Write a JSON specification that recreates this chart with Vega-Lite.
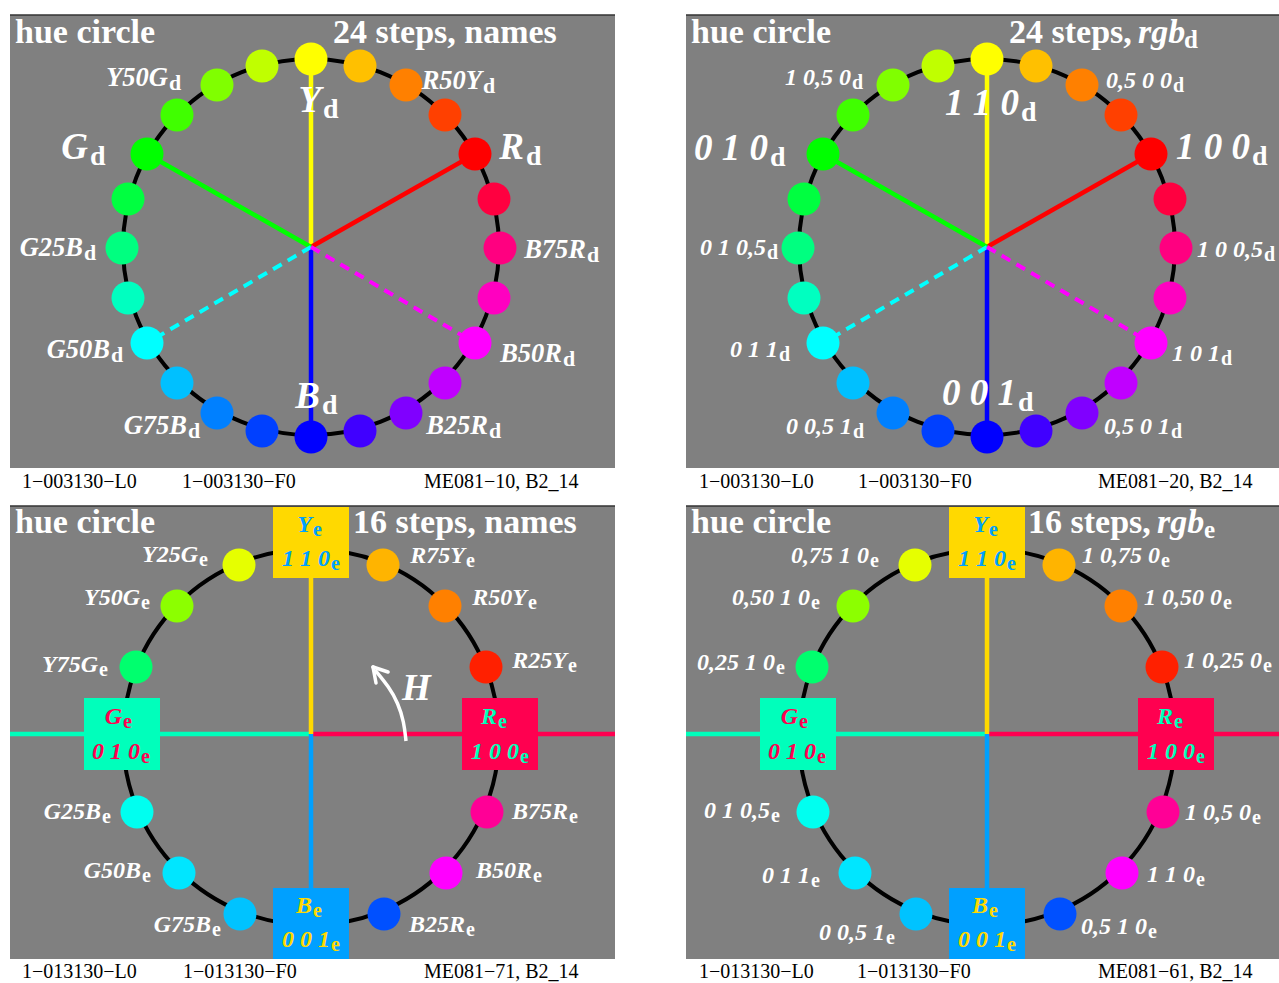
{
 "$schema": "https://vega.github.io/schema/vega-lite/v6.json",
 "width": 1279, "height": 983, "padding": 0, "autosize": {"type": "none"},
 "background": "#ffffff",
 "config": {"view": {"stroke": null}, "text": {"font": "Liberation Serif"}},
 "datasets": {
  "panels": [
   {"x0": 10, "x1": 615, "y0": 15, "y1": 468},
   {"x0": 686, "x1": 1279, "y0": 15, "y1": 468},
   {"x0": 10, "x1": 615, "y0": 506, "y1": 959},
   {"x0": 686, "x1": 1279, "y0": 506, "y1": 959}
  ],
  "rings": [
   {"x": 311, "y": 247}, {"x": 987, "y": 247}, {"x": 311, "y": 737}, {"x": 987, "y": 737}
  ],
  "spokes": [
   {"x": 311, "y": 247, "x2": 311, "y2": 59, "c": "#ffff00", "dash": false},
   {"x": 311, "y": 247, "x2": 475, "y2": 154, "c": "#ff0000", "dash": false},
   {"x": 311, "y": 247, "x2": 147, "y2": 154, "c": "#00ff00", "dash": false},
   {"x": 311, "y": 247, "x2": 311, "y2": 437, "c": "#0000ff", "dash": false},
   {"x": 311, "y": 247, "x2": 147, "y2": 343, "c": "#00ffff", "dash": true},
   {"x": 311, "y": 247, "x2": 475, "y2": 343, "c": "#ff00ff", "dash": true},
   {"x": 987, "y": 247, "x2": 987, "y2": 59, "c": "#ffff00", "dash": false},
   {"x": 987, "y": 247, "x2": 1151, "y2": 154, "c": "#ff0000", "dash": false},
   {"x": 987, "y": 247, "x2": 823, "y2": 154, "c": "#00ff00", "dash": false},
   {"x": 987, "y": 247, "x2": 987, "y2": 437, "c": "#0000ff", "dash": false},
   {"x": 987, "y": 247, "x2": 823, "y2": 343, "c": "#00ffff", "dash": true},
   {"x": 987, "y": 247, "x2": 1151, "y2": 343, "c": "#ff00ff", "dash": true},
   {"x": 10, "y": 734, "x2": 311, "y2": 734, "c": "#00ffbb", "dash": false},
   {"x": 311, "y": 734, "x2": 615, "y2": 734, "c": "#ff0050", "dash": false},
   {"x": 311, "y": 734, "x2": 311, "y2": 578, "c": "#ffd900", "dash": false},
   {"x": 311, "y": 734, "x2": 311, "y2": 888, "c": "#00a0ff", "dash": false},
   {"x": 686, "y": 734, "x2": 987, "y2": 734, "c": "#00ffbb", "dash": false},
   {"x": 987, "y": 734, "x2": 1279, "y2": 734, "c": "#ff0050", "dash": false},
   {"x": 987, "y": 734, "x2": 987, "y2": 578, "c": "#ffd900", "dash": false},
   {"x": 987, "y": 734, "x2": 987, "y2": 888, "c": "#00a0ff", "dash": false}
  ],
  "boxes": [
   {"x0": 273, "x1": 349, "y0": 507, "y1": 578, "c": "#ffd900"},
   {"x0": 84, "x1": 160, "y0": 698, "y1": 770, "c": "#00ffbb"},
   {"x0": 462, "x1": 538, "y0": 698, "y1": 770, "c": "#ff0050"},
   {"x0": 273, "x1": 349, "y0": 888, "y1": 959, "c": "#00a0ff"},
   {"x0": 949, "x1": 1025, "y0": 507, "y1": 578, "c": "#ffd900"},
   {"x0": 760, "x1": 836, "y0": 698, "y1": 770, "c": "#00ffbb"},
   {"x0": 1138, "x1": 1214, "y0": 698, "y1": 770, "c": "#ff0050"},
   {"x0": 949, "x1": 1025, "y0": 888, "y1": 959, "c": "#00a0ff"}
  ],
  "dots": [
   {"x": 311, "y": 59, "c": "#ffff00"}, {"x": 360, "y": 66, "c": "#ffc000"}, {"x": 406, "y": 85, "c": "#ff8000"},
   {"x": 445, "y": 115, "c": "#ff4000"}, {"x": 475, "y": 154, "c": "#ff0000"}, {"x": 494, "y": 199, "c": "#ff0040"},
   {"x": 500, "y": 248, "c": "#ff0080"}, {"x": 494, "y": 298, "c": "#ff00c0"}, {"x": 475, "y": 343, "c": "#ff00ff"},
   {"x": 445, "y": 383, "c": "#c000ff"}, {"x": 406, "y": 413, "c": "#8000ff"}, {"x": 360, "y": 431, "c": "#4000ff"},
   {"x": 311, "y": 437, "c": "#0000ff"}, {"x": 262, "y": 431, "c": "#0040ff"}, {"x": 217, "y": 413, "c": "#0080ff"},
   {"x": 177, "y": 383, "c": "#00c0ff"}, {"x": 147, "y": 343, "c": "#00ffff"}, {"x": 128, "y": 298, "c": "#00ffc0"},
   {"x": 122, "y": 248, "c": "#00ff80"}, {"x": 128, "y": 199, "c": "#00ff40"}, {"x": 147, "y": 154, "c": "#00ff00"},
   {"x": 177, "y": 115, "c": "#40ff00"}, {"x": 217, "y": 85, "c": "#80ff00"}, {"x": 262, "y": 66, "c": "#c0ff00"},
   {"x": 987, "y": 59, "c": "#ffff00"}, {"x": 1036, "y": 66, "c": "#ffc000"}, {"x": 1082, "y": 85, "c": "#ff8000"},
   {"x": 1121, "y": 115, "c": "#ff4000"}, {"x": 1151, "y": 154, "c": "#ff0000"}, {"x": 1170, "y": 199, "c": "#ff0040"},
   {"x": 1176, "y": 248, "c": "#ff0080"}, {"x": 1170, "y": 298, "c": "#ff00c0"}, {"x": 1151, "y": 343, "c": "#ff00ff"},
   {"x": 1121, "y": 383, "c": "#c000ff"}, {"x": 1082, "y": 413, "c": "#8000ff"}, {"x": 1036, "y": 431, "c": "#4000ff"},
   {"x": 987, "y": 437, "c": "#0000ff"}, {"x": 938, "y": 431, "c": "#0040ff"}, {"x": 893, "y": 413, "c": "#0080ff"},
   {"x": 853, "y": 383, "c": "#00c0ff"}, {"x": 823, "y": 343, "c": "#00ffff"}, {"x": 804, "y": 298, "c": "#00ffc0"},
   {"x": 798, "y": 248, "c": "#00ff80"}, {"x": 804, "y": 199, "c": "#00ff40"}, {"x": 823, "y": 154, "c": "#00ff00"},
   {"x": 853, "y": 115, "c": "#40ff00"}, {"x": 893, "y": 85, "c": "#80ff00"}, {"x": 938, "y": 66, "c": "#c0ff00"},
   {"x": 239, "y": 565, "c": "#e6ff00"}, {"x": 177, "y": 606, "c": "#8cff00"}, {"x": 136, "y": 667, "c": "#00ff6e"},
   {"x": 383, "y": 565, "c": "#ffb400"}, {"x": 445, "y": 606, "c": "#ff8000"}, {"x": 486, "y": 667, "c": "#ff2000"},
   {"x": 137, "y": 812, "c": "#00fff0"}, {"x": 179, "y": 873, "c": "#00e6ff"}, {"x": 240, "y": 914, "c": "#00c3ff"},
   {"x": 487, "y": 812, "c": "#ff0096"}, {"x": 446, "y": 873, "c": "#ff00ff"}, {"x": 384, "y": 914, "c": "#0050ff"},
   {"x": 915, "y": 565, "c": "#e6ff00"}, {"x": 853, "y": 606, "c": "#8cff00"}, {"x": 812, "y": 667, "c": "#00ff6e"},
   {"x": 1059, "y": 565, "c": "#ffb400"}, {"x": 1121, "y": 606, "c": "#ff8000"}, {"x": 1162, "y": 667, "c": "#ff2000"},
   {"x": 813, "y": 812, "c": "#00fff0"}, {"x": 855, "y": 873, "c": "#00e6ff"}, {"x": 916, "y": 914, "c": "#00c3ff"},
   {"x": 1163, "y": 812, "c": "#ff0096"}, {"x": 1122, "y": 873, "c": "#ff00ff"}, {"x": 1060, "y": 914, "c": "#0050ff"}
  ],
  "labels": [
   {"x": 168, "y": 86, "main": "Y50G", "sub": "d", "k": "t"},
   {"x": 482, "y": 89, "main": "R50Y", "sub": "d", "k": "t"},
   {"x": 83, "y": 256, "main": "G25B", "sub": "d", "k": "t"},
   {"x": 586, "y": 258, "main": "B75R", "sub": "d", "k": "t"},
   {"x": 110, "y": 358, "main": "G50B", "sub": "d", "k": "t"},
   {"x": 562, "y": 362, "main": "B50R", "sub": "d", "k": "t"},
   {"x": 187, "y": 434, "main": "G75B", "sub": "d", "k": "t"},
   {"x": 488, "y": 434, "main": "B25R", "sub": "d", "k": "t"},
   {"x": 321, "y": 112, "main": "Y", "sub": "d", "k": "b"},
   {"x": 88, "y": 159, "main": "G", "sub": "d", "k": "b"},
   {"x": 524, "y": 159, "main": "R", "sub": "d", "k": "b"},
   {"x": 320, "y": 408, "main": "B", "sub": "d", "k": "b"},
   {"x": 851, "y": 85, "main": "1 0,5 0", "sub": "d", "k": "s"},
   {"x": 1172, "y": 88, "main": "0,5 0 0", "sub": "d", "k": "s"},
   {"x": 766, "y": 255, "main": "0 1 0,5", "sub": "d", "k": "s"},
   {"x": 1263, "y": 257, "main": "1 0 0,5", "sub": "d", "k": "s"},
   {"x": 778, "y": 357, "main": "0 1 1", "sub": "d", "k": "s"},
   {"x": 1220, "y": 361, "main": "1 0 1", "sub": "d", "k": "s"},
   {"x": 852, "y": 434, "main": "0 0,5 1", "sub": "d", "k": "s"},
   {"x": 1170, "y": 434, "main": "0,5 0 1", "sub": "d", "k": "s"},
   {"x": 1019, "y": 115, "main": "1 1 0", "sub": "d", "k": "b"},
   {"x": 768, "y": 160, "main": "0 1 0", "sub": "d", "k": "b"},
   {"x": 1250, "y": 159, "main": "1 0 0", "sub": "d", "k": "b"},
   {"x": 1016, "y": 405, "main": "0 0 1", "sub": "d", "k": "b"},
   {"x": 198, "y": 562, "main": "Y25G", "sub": "e", "k": "s"},
   {"x": 140, "y": 605, "main": "Y50G", "sub": "e", "k": "s"},
   {"x": 98, "y": 672, "main": "Y75G", "sub": "e", "k": "s"},
   {"x": 465, "y": 563, "main": "R75Y", "sub": "e", "k": "s"},
   {"x": 527, "y": 605, "main": "R50Y", "sub": "e", "k": "s"},
   {"x": 567, "y": 668, "main": "R25Y", "sub": "e", "k": "s"},
   {"x": 101, "y": 819, "main": "G25B", "sub": "e", "k": "s"},
   {"x": 141, "y": 878, "main": "G50B", "sub": "e", "k": "s"},
   {"x": 211, "y": 932, "main": "G75B", "sub": "e", "k": "s"},
   {"x": 568, "y": 819, "main": "B75R", "sub": "e", "k": "s"},
   {"x": 532, "y": 878, "main": "B50R", "sub": "e", "k": "s"},
   {"x": 465, "y": 932, "main": "B25R", "sub": "e", "k": "s"},
   {"x": 869, "y": 563, "main": "0,75 1 0", "sub": "e", "k": "s"},
   {"x": 810, "y": 605, "main": "0,50 1 0", "sub": "e", "k": "s"},
   {"x": 775, "y": 670, "main": "0,25 1 0", "sub": "e", "k": "s"},
   {"x": 1160, "y": 563, "main": "1 0,75 0", "sub": "e", "k": "s"},
   {"x": 1222, "y": 605, "main": "1 0,50 0", "sub": "e", "k": "s"},
   {"x": 1262, "y": 668, "main": "1 0,25 0", "sub": "e", "k": "s"},
   {"x": 770, "y": 818, "main": "0 1 0,5", "sub": "e", "k": "s"},
   {"x": 810, "y": 883, "main": "0 1 1", "sub": "e", "k": "s"},
   {"x": 885, "y": 940, "main": "0 0,5 1", "sub": "e", "k": "s"},
   {"x": 1251, "y": 820, "main": "1 0,5 0", "sub": "e", "k": "s"},
   {"x": 1195, "y": 882, "main": "1 1 0", "sub": "e", "k": "s"},
   {"x": 1147, "y": 934, "main": "0,5 1 0", "sub": "e", "k": "s"}
  ],
  "boxlabels": [
   {"x": 312, "y": 532, "main": "Y", "sub": "e", "c": "#00a0ff"},
   {"x": 330, "y": 566, "main": "1 1 0", "sub": "e", "c": "#00a0ff"},
   {"x": 122, "y": 724, "main": "G", "sub": "e", "c": "#ff0050"},
   {"x": 140, "y": 759, "main": "0 1 0", "sub": "e", "c": "#ff0050"},
   {"x": 497, "y": 724, "main": "R", "sub": "e", "c": "#00ffbb"},
   {"x": 519, "y": 759, "main": "1 0 0", "sub": "e", "c": "#00ffbb"},
   {"x": 312, "y": 913, "main": "B", "sub": "e", "c": "#ffd900"},
   {"x": 330, "y": 947, "main": "0 0 1", "sub": "e", "c": "#ffd900"},
   {"x": 988, "y": 532, "main": "Y", "sub": "e", "c": "#00a0ff"},
   {"x": 1006, "y": 566, "main": "1 1 0", "sub": "e", "c": "#00a0ff"},
   {"x": 798, "y": 724, "main": "G", "sub": "e", "c": "#ff0050"},
   {"x": 816, "y": 759, "main": "0 1 0", "sub": "e", "c": "#ff0050"},
   {"x": 1173, "y": 724, "main": "R", "sub": "e", "c": "#00ffbb"},
   {"x": 1195, "y": 759, "main": "1 0 0", "sub": "e", "c": "#00ffbb"},
   {"x": 988, "y": 913, "main": "B", "sub": "e", "c": "#ffd900"},
   {"x": 1006, "y": 947, "main": "0 0 1", "sub": "e", "c": "#ffd900"}
  ],
  "titles": [
   {"x": 15, "y": 43, "t": "hue circle", "s": "b"},
   {"x": 333, "y": 43, "t": "24 steps, names", "s": "b"},
   {"x": 691, "y": 43, "t": "hue circle", "s": "b"},
   {"x": 1009, "y": 43, "t": "24 steps,", "s": "b"},
   {"x": 1138, "y": 43, "t": "rgb", "s": "bi"},
   {"x": 1184, "y": 48, "t": "d", "s": "sub"},
   {"x": 15, "y": 533, "t": "hue circle", "s": "b"},
   {"x": 353, "y": 533, "t": "16 steps, names", "s": "b"},
   {"x": 691, "y": 533, "t": "hue circle", "s": "b"},
   {"x": 1028, "y": 533, "t": "16 steps,", "s": "b"},
   {"x": 1157, "y": 533, "t": "rgb", "s": "bi"},
   {"x": 1204, "y": 538, "t": "e", "s": "sub"},
   {"x": 402, "y": 700, "t": "H", "s": "H"}
  ],
  "footers": [
   {"x": 22, "y": 488, "t": "1−003130−L0"},
   {"x": 182, "y": 488, "t": "1−003130−F0"},
   {"x": 424, "y": 488, "t": "ME081−10, B2_14"},
   {"x": 699, "y": 488, "t": "1−003130−L0"},
   {"x": 858, "y": 488, "t": "1−003130−F0"},
   {"x": 1098, "y": 488, "t": "ME081−20, B2_14"},
   {"x": 22, "y": 978, "t": "1−013130−L0"},
   {"x": 183, "y": 978, "t": "1−013130−F0"},
   {"x": 424, "y": 978, "t": "ME081−71, B2_14"},
   {"x": 699, "y": 978, "t": "1−013130−L0"},
   {"x": 857, "y": 978, "t": "1−013130−F0"},
   {"x": 1098, "y": 978, "t": "ME081−61, B2_14"}
  ],
  "arrow": [
   {"x": 406, "y": 741, "o": 1},
   {"x": 404, "y": 722, "o": 2},
   {"x": 398, "y": 703, "o": 3},
   {"x": 389, "y": 687, "o": 4},
   {"x": 375, "y": 670, "o": 5}
  ],
  "arrowhead": [
   {"x": 373, "y": 667, "x2": 388, "y2": 672},
   {"x": 373, "y": 667, "x2": 376, "y2": 683}
  ]
 },
 "layer": [
  {
   "data": {"name": "panels"},
   "mark": {"type": "rect", "fill": "#808080"},
   "encoding": {
    "x": {"field": "x0", "type": "quantitative", "scale": {"domain": [0, 1279], "nice": false, "zero": false}, "axis": null},
    "x2": {"field": "x1"},
    "y": {"field": "y0", "type": "quantitative", "scale": {"domain": [0, 983], "nice": false, "zero": false, "reverse": true}, "axis": null},
    "y2": {"field": "y1"}
   }
  },
  {
   "data": {"name": "panels"},
   "mark": {"type": "rule", "color": "#333333", "strokeWidth": 1.5},
   "encoding": {
    "x": {"field": "x0", "type": "quantitative", "scale": {"domain": [0, 1279], "nice": false, "zero": false}, "axis": null},
    "x2": {"field": "x1"},
    "y": {"field": "y0", "type": "quantitative", "scale": {"domain": [0, 983], "nice": false, "zero": false, "reverse": true}, "axis": null}
   }
  },
  {
   "data": {"name": "rings"},
   "mark": {"type": "point", "shape": "circle", "filled": false, "stroke": "#000000", "strokeWidth": 4, "size": 141376, "opacity": 1},
   "encoding": {
    "x": {"field": "x", "type": "quantitative", "scale": {"domain": [0, 1279], "nice": false, "zero": false}, "axis": null},
    "y": {"field": "y", "type": "quantitative", "scale": {"domain": [0, 983], "nice": false, "zero": false, "reverse": true}, "axis": null}
   }
  },
  {
   "data": {"name": "spokes"},
   "transform": [{"filter": "!datum.dash"}],
   "mark": {"type": "rule", "strokeWidth": 4.5},
   "encoding": {
    "x": {"field": "x", "type": "quantitative", "scale": {"domain": [0, 1279], "nice": false, "zero": false}, "axis": null},
    "x2": {"field": "x2"},
    "y": {"field": "y", "type": "quantitative", "scale": {"domain": [0, 983], "nice": false, "zero": false, "reverse": true}, "axis": null},
    "y2": {"field": "y2"},
    "color": {"field": "c", "type": "nominal", "scale": null}
   }
  },
  {
   "data": {"name": "spokes"},
   "transform": [{"filter": "datum.dash"}],
   "mark": {"type": "rule", "strokeWidth": 4, "strokeDash": [10, 7]},
   "encoding": {
    "x": {"field": "x", "type": "quantitative", "scale": {"domain": [0, 1279], "nice": false, "zero": false}, "axis": null},
    "x2": {"field": "x2"},
    "y": {"field": "y", "type": "quantitative", "scale": {"domain": [0, 983], "nice": false, "zero": false, "reverse": true}, "axis": null},
    "y2": {"field": "y2"},
    "color": {"field": "c", "type": "nominal", "scale": null}
   }
  },
  {
   "data": {"name": "boxes"},
   "mark": {"type": "rect"},
   "encoding": {
    "x": {"field": "x0", "type": "quantitative", "scale": {"domain": [0, 1279], "nice": false, "zero": false}, "axis": null},
    "x2": {"field": "x1"},
    "y": {"field": "y0", "type": "quantitative", "scale": {"domain": [0, 983], "nice": false, "zero": false, "reverse": true}, "axis": null},
    "y2": {"field": "y1"},
    "color": {"field": "c", "type": "nominal", "scale": null}
   }
  },
  {
   "data": {"name": "dots"},
   "mark": {"type": "point", "shape": "circle", "filled": true, "size": 1089, "opacity": 1, "strokeWidth": 0},
   "encoding": {
    "x": {"field": "x", "type": "quantitative", "scale": {"domain": [0, 1279], "nice": false, "zero": false}, "axis": null},
    "y": {"field": "y", "type": "quantitative", "scale": {"domain": [0, 983], "nice": false, "zero": false, "reverse": true}, "axis": null},
    "color": {"field": "c", "type": "nominal", "scale": null}
   }
  },
  {
   "data": {"name": "arrow"},
   "mark": {"type": "line", "color": "#ffffff", "strokeWidth": 3.5, "interpolate": "basis"},
   "encoding": {
    "x": {"field": "x", "type": "quantitative", "scale": {"domain": [0, 1279], "nice": false, "zero": false}, "axis": null},
    "y": {"field": "y", "type": "quantitative", "scale": {"domain": [0, 983], "nice": false, "zero": false, "reverse": true}, "axis": null},
    "order": {"field": "o", "type": "quantitative"}
   }
  },
  {
   "data": {"name": "arrowhead"},
   "mark": {"type": "rule", "color": "#ffffff", "strokeWidth": 3.5, "strokeCap": "round"},
   "encoding": {
    "x": {"field": "x", "type": "quantitative", "scale": {"domain": [0, 1279], "nice": false, "zero": false}, "axis": null},
    "x2": {"field": "x2"},
    "y": {"field": "y", "type": "quantitative", "scale": {"domain": [0, 983], "nice": false, "zero": false, "reverse": true}, "axis": null},
    "y2": {"field": "y2"}
   }
  },
  {
   "data": {"name": "labels"},
   "transform": [{"filter": "datum.k == 's'"}],
   "mark": {"type": "text", "align": "right", "baseline": "alphabetic", "font": "Liberation Serif", "fontStyle": "italic", "fontWeight": "bold", "fontSize": 24, "color": "#ffffff"},
   "encoding": {
    "x": {"field": "x", "type": "quantitative", "scale": {"domain": [0, 1279], "nice": false, "zero": false}, "axis": null},
    "y": {"field": "y", "type": "quantitative", "scale": {"domain": [0, 983], "nice": false, "zero": false, "reverse": true}, "axis": null},
    "text": {"field": "main"}
   }
  },
  {
   "data": {"name": "labels"},
   "transform": [{"filter": "datum.k == 's'"}],
   "mark": {"type": "text", "align": "left", "baseline": "alphabetic", "font": "Liberation Serif", "fontWeight": "bold", "fontSize": 20, "dx": 1, "dy": 4, "color": "#ffffff"},
   "encoding": {
    "x": {"field": "x", "type": "quantitative", "scale": {"domain": [0, 1279], "nice": false, "zero": false}, "axis": null},
    "y": {"field": "y", "type": "quantitative", "scale": {"domain": [0, 983], "nice": false, "zero": false, "reverse": true}, "axis": null},
    "text": {"field": "sub"}
   }
  },
  {
   "data": {"name": "labels"},
   "transform": [{"filter": "datum.k == 't'"}],
   "mark": {"type": "text", "align": "right", "baseline": "alphabetic", "font": "Liberation Serif", "fontStyle": "italic", "fontWeight": "bold", "fontSize": 26.5, "color": "#ffffff"},
   "encoding": {
    "x": {"field": "x", "type": "quantitative", "scale": {"domain": [0, 1279], "nice": false, "zero": false}, "axis": null},
    "y": {"field": "y", "type": "quantitative", "scale": {"domain": [0, 983], "nice": false, "zero": false, "reverse": true}, "axis": null},
    "text": {"field": "main"}
   }
  },
  {
   "data": {"name": "labels"},
   "transform": [{"filter": "datum.k == 't'"}],
   "mark": {"type": "text", "align": "left", "baseline": "alphabetic", "font": "Liberation Serif", "fontWeight": "bold", "fontSize": 22, "dx": 1, "dy": 4, "color": "#ffffff"},
   "encoding": {
    "x": {"field": "x", "type": "quantitative", "scale": {"domain": [0, 1279], "nice": false, "zero": false}, "axis": null},
    "y": {"field": "y", "type": "quantitative", "scale": {"domain": [0, 983], "nice": false, "zero": false, "reverse": true}, "axis": null},
    "text": {"field": "sub"}
   }
  },
  {
   "data": {"name": "labels"},
   "transform": [{"filter": "datum.k == 'b'"}],
   "mark": {"type": "text", "align": "right", "baseline": "alphabetic", "font": "Liberation Serif", "fontStyle": "italic", "fontWeight": "bold", "fontSize": 37, "color": "#ffffff"},
   "encoding": {
    "x": {"field": "x", "type": "quantitative", "scale": {"domain": [0, 1279], "nice": false, "zero": false}, "axis": null},
    "y": {"field": "y", "type": "quantitative", "scale": {"domain": [0, 983], "nice": false, "zero": false, "reverse": true}, "axis": null},
    "text": {"field": "main"}
   }
  },
  {
   "data": {"name": "labels"},
   "transform": [{"filter": "datum.k == 'b'"}],
   "mark": {"type": "text", "align": "left", "baseline": "alphabetic", "font": "Liberation Serif", "fontWeight": "bold", "fontSize": 28, "dx": 2, "dy": 6, "color": "#ffffff"},
   "encoding": {
    "x": {"field": "x", "type": "quantitative", "scale": {"domain": [0, 1279], "nice": false, "zero": false}, "axis": null},
    "y": {"field": "y", "type": "quantitative", "scale": {"domain": [0, 983], "nice": false, "zero": false, "reverse": true}, "axis": null},
    "text": {"field": "sub"}
   }
  },
  {
   "data": {"name": "boxlabels"},
   "mark": {"type": "text", "align": "right", "baseline": "alphabetic", "font": "Liberation Serif", "fontStyle": "italic", "fontWeight": "bold", "fontSize": 24},
   "encoding": {
    "x": {"field": "x", "type": "quantitative", "scale": {"domain": [0, 1279], "nice": false, "zero": false}, "axis": null},
    "y": {"field": "y", "type": "quantitative", "scale": {"domain": [0, 983], "nice": false, "zero": false, "reverse": true}, "axis": null},
    "text": {"field": "main"},
    "color": {"field": "c", "type": "nominal", "scale": null}
   }
  },
  {
   "data": {"name": "boxlabels"},
   "mark": {"type": "text", "align": "left", "baseline": "alphabetic", "font": "Liberation Serif", "fontWeight": "bold", "fontSize": 20, "dx": 1, "dy": 4},
   "encoding": {
    "x": {"field": "x", "type": "quantitative", "scale": {"domain": [0, 1279], "nice": false, "zero": false}, "axis": null},
    "y": {"field": "y", "type": "quantitative", "scale": {"domain": [0, 983], "nice": false, "zero": false, "reverse": true}, "axis": null},
    "text": {"field": "sub"},
    "color": {"field": "c", "type": "nominal", "scale": null}
   }
  },
  {
   "data": {"name": "titles"},
   "transform": [{"filter": "datum.s == 'b'"}],
   "mark": {"type": "text", "align": "left", "baseline": "alphabetic", "font": "Liberation Serif", "fontWeight": "bold", "fontSize": 34, "color": "#ffffff"},
   "encoding": {
    "x": {"field": "x", "type": "quantitative", "scale": {"domain": [0, 1279], "nice": false, "zero": false}, "axis": null},
    "y": {"field": "y", "type": "quantitative", "scale": {"domain": [0, 983], "nice": false, "zero": false, "reverse": true}, "axis": null},
    "text": {"field": "t"}
   }
  },
  {
   "data": {"name": "titles"},
   "transform": [{"filter": "datum.s == 'bi'"}],
   "mark": {"type": "text", "align": "left", "baseline": "alphabetic", "font": "Liberation Serif", "fontStyle": "italic", "fontWeight": "bold", "fontSize": 34, "color": "#ffffff"},
   "encoding": {
    "x": {"field": "x", "type": "quantitative", "scale": {"domain": [0, 1279], "nice": false, "zero": false}, "axis": null},
    "y": {"field": "y", "type": "quantitative", "scale": {"domain": [0, 983], "nice": false, "zero": false, "reverse": true}, "axis": null},
    "text": {"field": "t"}
   }
  },
  {
   "data": {"name": "titles"},
   "transform": [{"filter": "datum.s == 'sub'"}],
   "mark": {"type": "text", "align": "left", "baseline": "alphabetic", "font": "Liberation Serif", "fontWeight": "bold", "fontSize": 25, "color": "#ffffff"},
   "encoding": {
    "x": {"field": "x", "type": "quantitative", "scale": {"domain": [0, 1279], "nice": false, "zero": false}, "axis": null},
    "y": {"field": "y", "type": "quantitative", "scale": {"domain": [0, 983], "nice": false, "zero": false, "reverse": true}, "axis": null},
    "text": {"field": "t"}
   }
  },
  {
   "data": {"name": "titles"},
   "transform": [{"filter": "datum.s == 'H'"}],
   "mark": {"type": "text", "align": "left", "baseline": "alphabetic", "font": "Liberation Serif", "fontStyle": "italic", "fontWeight": "bold", "fontSize": 37, "color": "#ffffff"},
   "encoding": {
    "x": {"field": "x", "type": "quantitative", "scale": {"domain": [0, 1279], "nice": false, "zero": false}, "axis": null},
    "y": {"field": "y", "type": "quantitative", "scale": {"domain": [0, 983], "nice": false, "zero": false, "reverse": true}, "axis": null},
    "text": {"field": "t"}
   }
  },
  {
   "data": {"name": "footers"},
   "mark": {"type": "text", "align": "left", "baseline": "alphabetic", "font": "Liberation Serif", "fontSize": 20, "color": "#000000"},
   "encoding": {
    "x": {"field": "x", "type": "quantitative", "scale": {"domain": [0, 1279], "nice": false, "zero": false}, "axis": null},
    "y": {"field": "y", "type": "quantitative", "scale": {"domain": [0, 983], "nice": false, "zero": false, "reverse": true}, "axis": null},
    "text": {"field": "t"}
   }
  }
 ]
}
